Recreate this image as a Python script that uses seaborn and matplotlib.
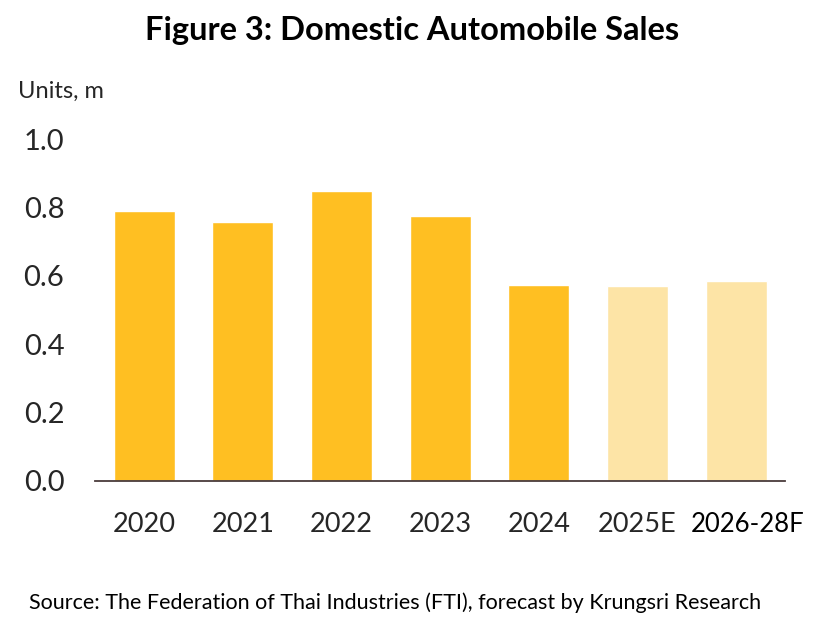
import matplotlib
matplotlib.use("Agg")
import matplotlib.pyplot as plt
import matplotlib.transforms as mtransforms
import seaborn as sns
import pandas as pd

years = ["2020", "2021", "2022", "2023", "2024", "2025E", "2026-28F"]
sales = [0.789, 0.757, 0.848, 0.775, 0.573, 0.570, 0.585]
bar_colors = ["#FFBF22"] * 5 + ["#FDE4A6"] * 2

sns.set_theme(style="white")
plt.rcParams["font.family"] = ["Lato", "DejaVu Sans"]

df = pd.DataFrame({"year": years, "sales": sales})

fig = plt.figure(figsize=(8.4, 6.32), dpi=100)
ax = fig.add_axes([0.113, 0.239, 0.822, 0.541])
sns.barplot(data=df, x="year", y="sales", hue="year", palette=bar_colors,
            legend=False, width=0.62, ax=ax, saturation=1)

ax.set_ylim(0, 1.0)
ax.set_xlim(-0.5, len(years) - 0.5)
ax.set_yticks([0, 0.2, 0.4, 0.6, 0.8, 1.0])
ax.set_yticklabels([f"{v:.1f}" for v in [0, 0.2, 0.4, 0.6, 0.8, 1.0]])
ax.set_xlabel("")
ax.set_ylabel("")
for s in ["top", "right", "left"]:
    ax.spines[s].set_visible(False)
ax.spines["bottom"].set_color("#4a3c3c")
ax.spines["bottom"].set_linewidth(1.3)
ax.tick_params(axis="x", length=0, pad=22, labelsize=19.5, colors="#262626")
ax.tick_params(axis="y", length=0, pad=22, labelsize=21, colors="#262626")

# last label sits a bit right of its bar, as in the original
last = ax.get_xticklabels()[-1]
last.set_color("#000000")
last.set_fontsize(18.5)
last.set_transform(last.get_transform() + mtransforms.ScaledTranslation(0.12, 0, fig.dpi_scale_trans))

fig.text(0.49, 0.952, "Figure 3: Domestic Automobile Sales", ha="center", va="center",
         fontsize=23.5, fontweight="bold", color="#000000")
fig.text(0.021, 0.855, "Units, m", ha="left", va="center", fontsize=17, color="#262626")
fig.text(0.035, 0.047, "Source: The Federation of Thai Industries (FTI), forecast by Krungsri Research",
         ha="left", va="center", fontsize=15.5, color="#000000")

fig.savefig("out.png", dpi=100)
